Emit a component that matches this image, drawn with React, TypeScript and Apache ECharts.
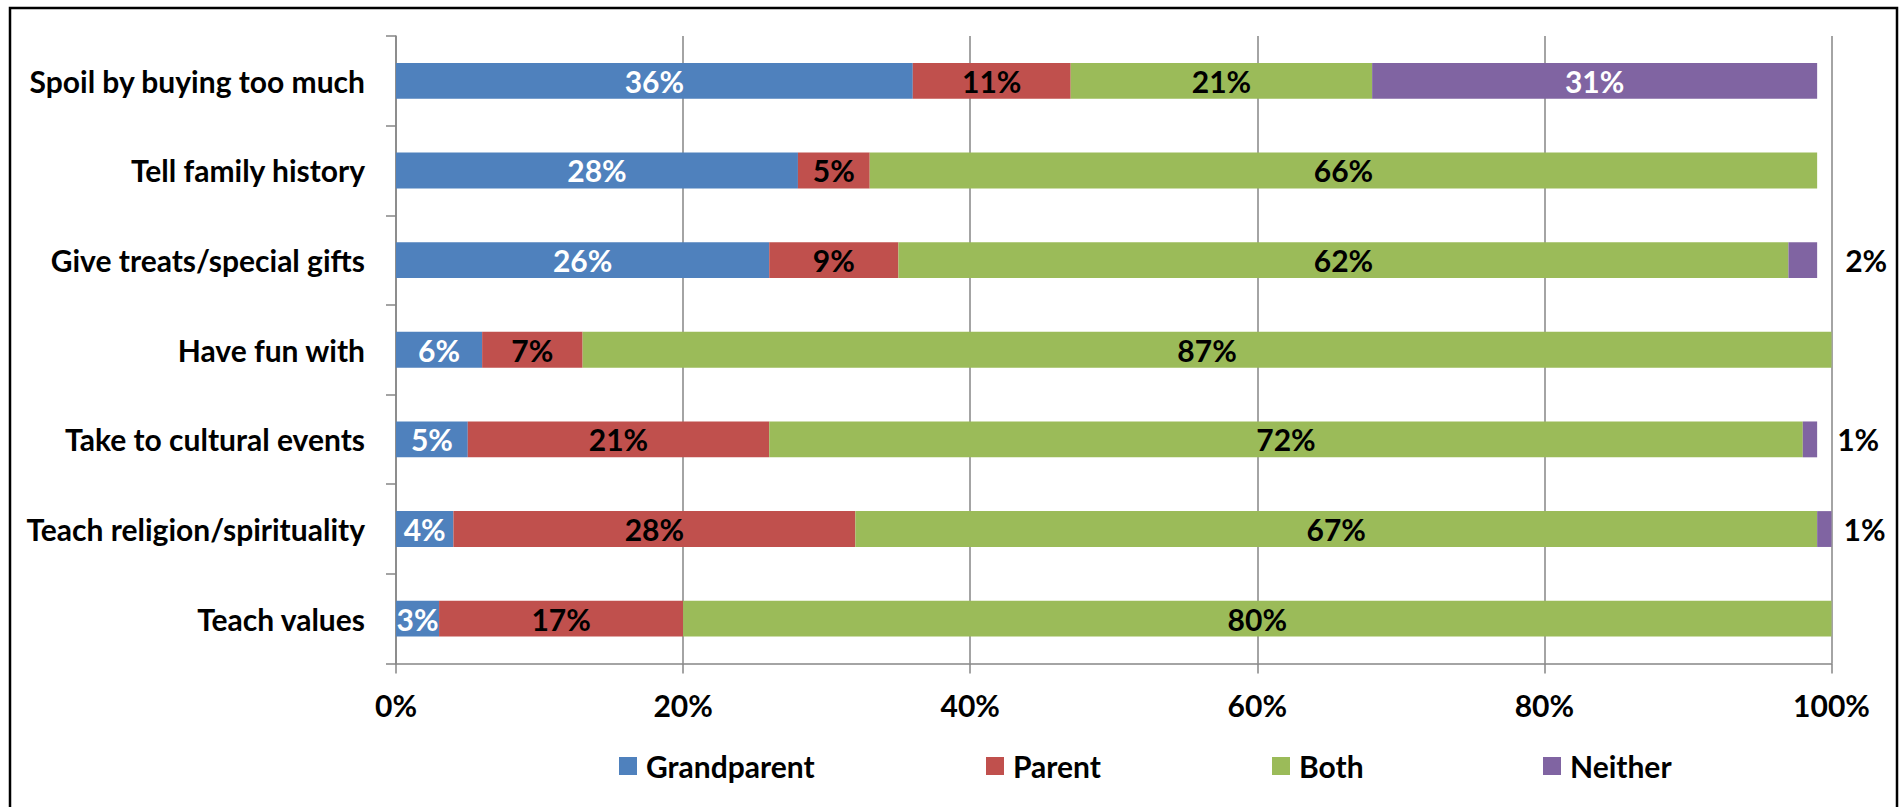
import React, { useEffect, useRef } from "react";
import * as echarts from "echarts";

const categories = [
  "Spoil by buying too much",
  "Tell family history",
  "Give treats/special gifts",
  "Have fun with",
  "Take to cultural events",
  "Teach religion/spirituality",
  "Teach values",
];
const seriesNames = ["Grandparent", "Parent", "Both", "Neither"];
const grandparent = [36, 28, 26, 6, 5, 4, 3];
const parent = [11, 5, 9, 7, 21, 28, 17];
const both = [21, 66, 62, 87, 72, 67, 80];
const neither = [31, 0, 2, 0, 1, 1, 0];
const xTicks = { min: 0, max: 100, interval: 20 };

const colors = ["#4F81BD", "#C0504D", "#9BBB59", "#8064A2"];
const FONT = "Lato, 'Open Sans', sans-serif";
const FS = 30;
const GRID = "#868686";

export default function App() {
  const ref = useRef<HTMLDivElement>(null);
  useEffect(() => {
    if (!ref.current) return;
    const chart = echarts.init(ref.current, undefined, { renderer: "svg" });
    const fmt = (p: any) => (p.value ? p.value + "%" : "");
    const outsideDist = [0, 0, 28, 0, 20, 12, 0];
    const values = [grandparent, parent, both, neither];
    const labelColors = ["#fff", "#000", "#000", "#fff"];
    const legendLeft = [619, 986, 1272, 1543];
    const option: any = {
      animation: false,
      color: colors,
      textStyle: { fontFamily: FONT },
      graphic: [
        {
          type: "rect",
          shape: { x: 10, y: 8, width: 1887, height: 830 },
          style: { fill: "none", stroke: "#000", lineWidth: 2.5 },
          silent: true,
        },
      ],
      legend: seriesNames.map((n, i) => ({
        data: [n],
        left: legendLeft[i],
        top: 751,
        padding: 0,
        itemWidth: 18,
        itemHeight: 18,
        icon: "rect",
        textStyle: {
          fontFamily: FONT,
          fontSize: FS,
          fontWeight: "bold",
          color: "#000",
          padding: [0, 0, 0, 4],
        },
      })),
      grid: {
        left: 396,
        right: 70.5,
        top: 36,
        bottom: 143.5,
        containLabel: false,
        outerBoundsMode: "none",
      },
      xAxis: {
        type: "value",
        min: xTicks.min,
        max: xTicks.max,
        interval: xTicks.interval,
        axisLine: { show: true, lineStyle: { color: GRID, width: 1.5 } },
        axisTick: { show: true, length: 10, lineStyle: { color: GRID, width: 1.5 } },
        splitLine: { show: true, lineStyle: { color: GRID, width: 1.5 } },
        axisLabel: {
          formatter: "{value}%",
          fontFamily: FONT,
          fontSize: FS,
          fontWeight: "bold",
          color: "#000",
          margin: 26,
        },
      },
      yAxis: {
        type: "category",
        data: categories,
        inverse: true,
        axisLine: { show: true, lineStyle: { color: GRID, width: 1.5 } },
        axisTick: { show: true, length: 10, lineStyle: { color: GRID, width: 1.5 } },
        axisLabel: {
          fontFamily: FONT,
          fontSize: FS,
          fontWeight: "bold",
          color: "#000",
          margin: 31,
        },
      },
      series: seriesNames.map((name, si) => ({
        name,
        type: "bar",
        stack: "total",
        barWidth: "40%",
        itemStyle: { color: colors[si] },
        label: {
          show: true,
          position: "inside",
          formatter: fmt,
          fontFamily: FONT,
          fontSize: FS,
          fontWeight: "bold",
          color: labelColors[si],
        },
        data: values[si].map((v, ci) => {
          if (si === 3 && v > 0 && v < 5) {
            return {
              value: v,
              label: { position: "right", distance: outsideDist[ci], color: "#000" },
            };
          }
          return v;
        }),
      })),
    };
    chart.setOption(option);
    return () => chart.dispose();
  }, []);
  return (
    <div
      ref={ref}
      style={{ position: "absolute", left: 0, top: 0, width: 1902, height: 807, background: "#fff" }}
    />
  );
}
